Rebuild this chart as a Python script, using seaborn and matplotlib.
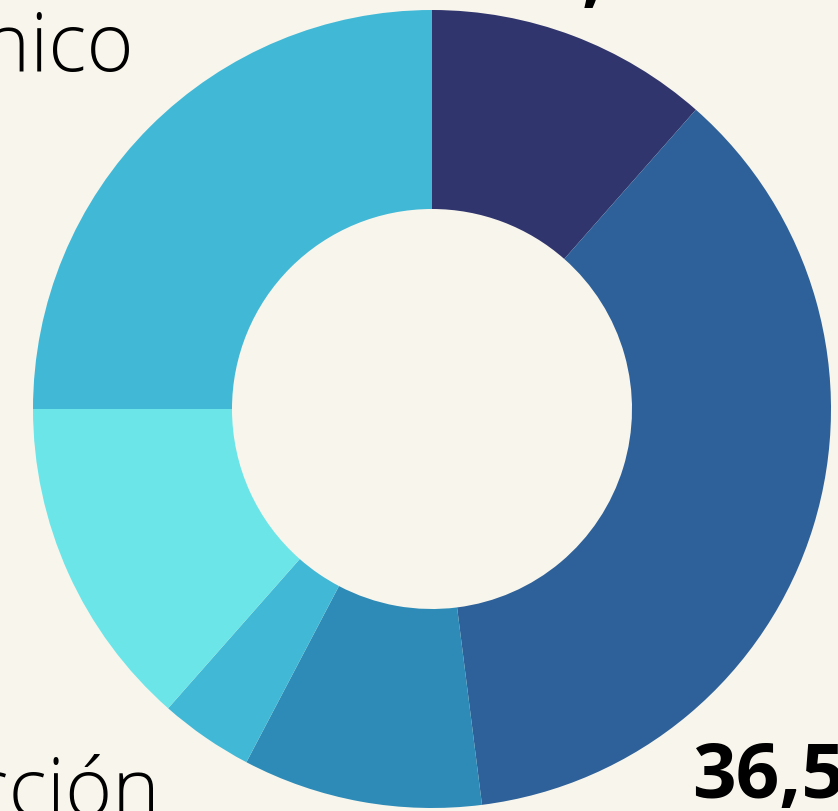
import matplotlib.pyplot as plt
import seaborn as sns

# Datos (porcentaje por sector)
sectores = ['A', 'B', 'C', 'D', 'E', 'Técnico']
valores = [11.5, 36.5, 9.7, 3.8, 13.5, 25.0]
colores = ['#31356e', '#2e6099', '#2e8bb8', '#42b8d7', '#6ce5e8', '#42b8d7']
etiquetas_valor = ['11,5', '36,5']

sns.set_theme(style='white')
plt.rcParams['font.family'] = ['Open Sans', 'DejaVu Sans']
fondo = '#f8f6ec'

W, H = 838, 812
fig = plt.figure(figsize=(W / 100, H / 100), dpi=100, facecolor=fondo)
ax = fig.add_axes([0, 0, 1, 1])
ax.set_facecolor(fondo)

ax.pie(valores, colors=colores, startangle=90, counterclock=False,
       radius=399, center=(432, H - 410),
       wedgeprops=dict(width=199, edgecolor='none', linewidth=0))

ax.set_xlim(0, W)
ax.set_ylim(0, H)
ax.set_aspect('equal')
ax.axis('off')

# Etiquetas (recortadas por el borde de la figura, como en el original)
ax.text(134, H - 71, 'Técnico', ha='right', va='baseline', fontsize=58,
        fontweight='light', color='black', clip_on=False)
ax.text(160, H - 816, 'Construcción', ha='right', va='baseline', fontsize=58,
        fontweight='light', color='black', clip_on=False)
ax.text(496, H + 2, etiquetas_valor[0], ha='left', va='baseline', fontsize=55,
        fontweight='bold', color='black', clip_on=False)
ax.text(692, H - 798, etiquetas_valor[1], ha='left', va='baseline', fontsize=55,
        fontweight='bold', color='black', clip_on=False)

fig.savefig('out.png', dpi=100, facecolor=fondo)
